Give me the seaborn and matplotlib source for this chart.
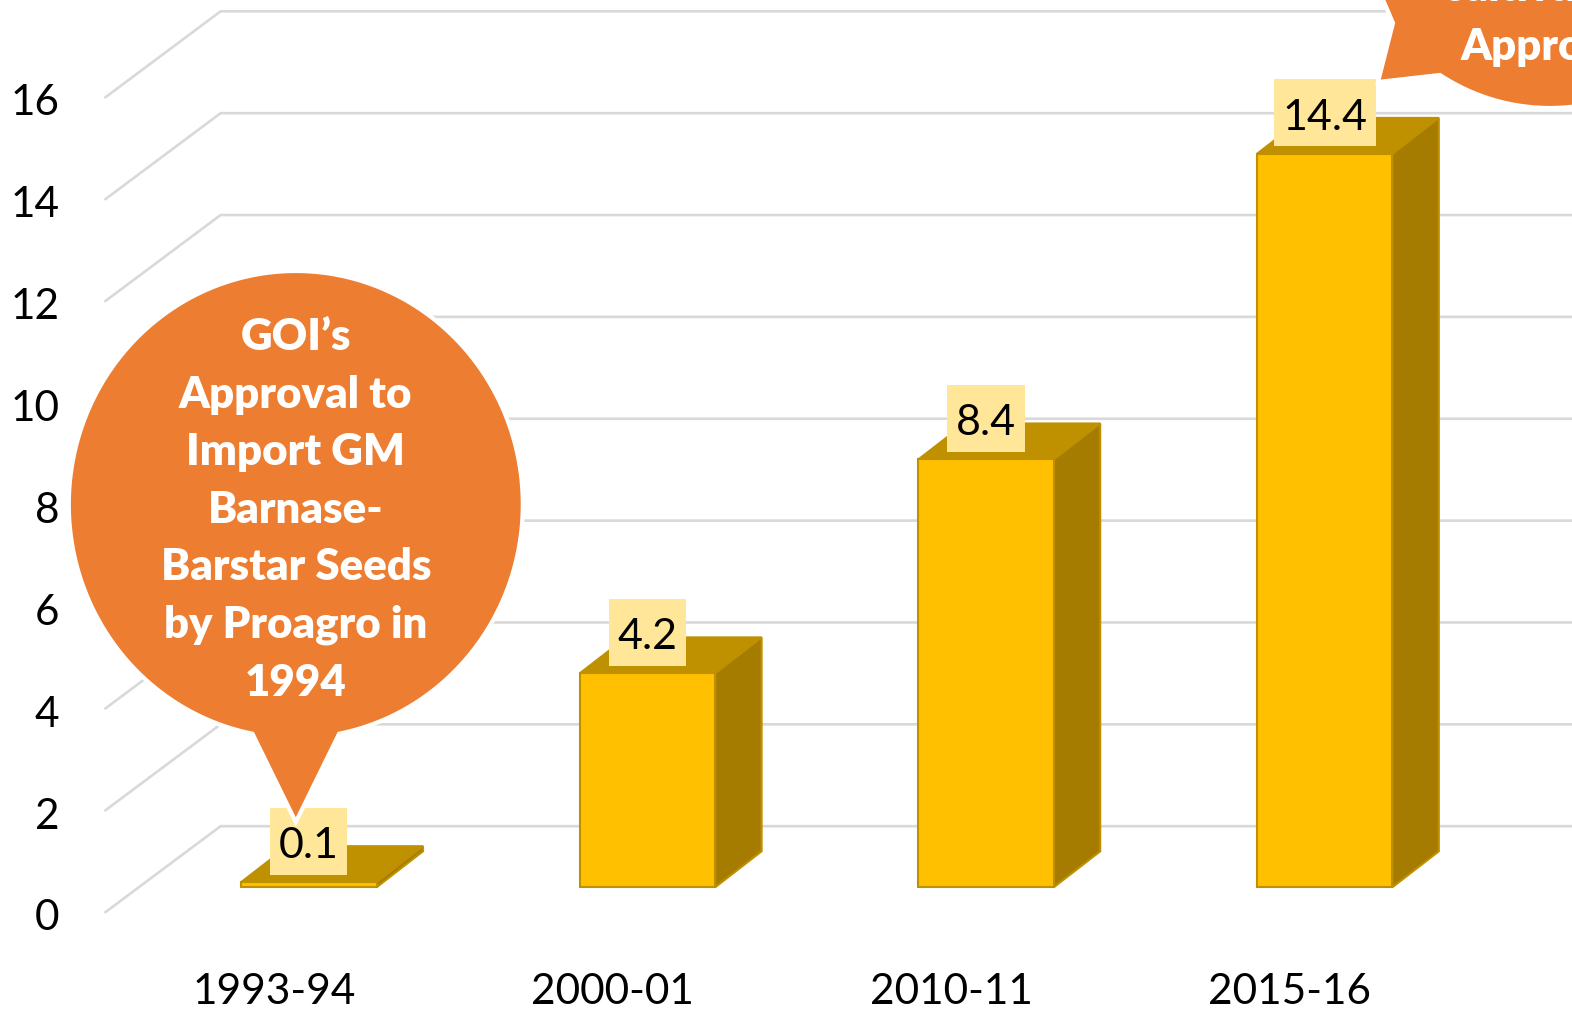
import numpy as np
import matplotlib
matplotlib.use("Agg")
import matplotlib.pyplot as plt
from matplotlib.patches import Polygon, Rectangle
import seaborn as sns

# ==========================================================
# DATA
# ==========================================================

categories = ["1993-94", "2000-01", "2010-11", "2015-16"]
values = [0.1, 4.2, 8.4, 14.4]
value_labels = ["0.1", "4.2", "8.4", "14.4"]
y_ticks = [0, 2, 4, 6, 8, 10, 12, 14, 16]

callout_left = ["GOI\u2019s", "Approval to", "Import GM", "Barnase-",
                "Barstar Seeds", "by Proagro in", "1994"]
callout_right = ["cultivation", "Approval"]

# ==========================================================
# STYLE
# ==========================================================

FRONT = "#FFC000"
TOP = "#BF9000"
SIDE = "#A67C00"
EDGE = "#BF9000"
LABEL_BOX = "#FFE699"
ORANGE = "#ED7D31"
GRID = "#D9D9D9"

W, H = 1572, 1010
X0, X_STEP = 308.8, 338.6     # pixels of first bar centre, bar spacing
Y0, Y_UNIT = 887.3, 50.93     # pixels of value 0 on the bars, one value unit
BAR_W = 0.4
DX = 46.5 / X_STEP            # depth of the bars
DY = 36 / Y_UNIT

sns.set_theme(style="white")
plt.rcParams["font.family"] = ["Lato", "DejaVu Sans"]

fig = plt.figure(figsize=(W / 100, H / 100), dpi=100)
ax = fig.add_axes([0, 0, 1, 1])

# ==========================================================
# GRID WALL
# ==========================================================

x_front = (105.3 - X0) / X_STEP
x_back = (220.6 - X0) / X_STEP
x_right = (W - X0) / X_STEP
for v in y_ticks:
    ax.plot([x_front, x_back, x_right], [v - 0.49, v + 1.2, v + 1.2],
            color=GRID, lw=1.9, zorder=0, solid_joinstyle="miter")
    ax.text(x_front - 0.135, v - 0.61, str(v), ha="right", va="center",
            fontsize=30.5, color="black")

# ==========================================================
# BARS
# ==========================================================

sns.barplot(x=categories, y=values, width=BAR_W, color=FRONT, saturation=1,
            edgecolor=EDGE, linewidth=1.5, ax=ax, zorder=3)

ax.set_xlim(-X0 / X_STEP, (W - X0) / X_STEP)
ax.set_ylim((Y0 - H) / Y_UNIT, Y0 / Y_UNIT)

renderer = fig.canvas.get_renderer()
for i, v in enumerate(values):
    l, r = i - BAR_W / 2, i + BAR_W / 2
    ax.add_patch(Polygon([(l, v), (r, v), (r + DX, v + DY), (l + DX, v + DY)],
                         fc=TOP, ec=EDGE, lw=1.5, zorder=2))
    ax.add_patch(Polygon([(r, 0), (r + DX, DY), (r + DX, v + DY), (r, v)],
                         fc=SIDE, ec=EDGE, lw=1.5, zorder=2))
    # value label: text sits a little low in its pale box
    txt = ax.text(i, v + 36 / Y_UNIT, value_labels[i], ha="center", va="center",
                  fontsize=31, color="black", zorder=5)
    box_w = (txt.get_window_extent(renderer).width + 17) / X_STEP
    ax.add_patch(Rectangle((i - box_w / 2, v + (41 - 33.5) / Y_UNIT), box_w,
                           67 / Y_UNIT, fc=LABEL_BOX, ec="none", zorder=4))
    ax.text(i - 35 / X_STEP, (Y0 - 992) / Y_UNIT, categories[i], ha="center",
            va="center", fontsize=30.5, color="black")

ax.axis("off")

# ==========================================================
# CALLOUTS
# ==========================================================

ov = fig.add_axes([0, 0, 1, 1], facecolor="none")
ov.set_xlim(0, W)
ov.set_ylim(H, 0)
ov.axis("off")

# arc runs from just right of the tail round the top to just left of it
t = np.radians(np.linspace(-79, 259, 200))
shape = np.column_stack([295.8 + 227 * np.cos(t), 504.5 - 233.5 * np.sin(t)])
shape = np.vstack([shape, [295.8, 822]])
ov.add_patch(Polygon(shape, closed=True, fc=ORANGE, ec="white", lw=3, zorder=5))

for i, line in enumerate(callout_left):
    ov.text(295.8, 337 + i * 57.6, line, ha="center", va="center", fontsize=31.5,
            fontweight="heavy", color="white", zorder=6)

t = np.radians(np.linspace(236.6, 360, 100))
arc = np.column_stack([1550 + 200 * np.cos(t), -92 - 200 * np.sin(t)])
shape = np.vstack([[1381, -5], [1393, 23], [1378, 82], arc])
ov.add_patch(Polygon(shape, closed=True, fc=ORANGE, ec="white", lw=3, zorder=5))

ov.text(1443, -12, callout_right[0], ha="left", va="center", fontsize=31.5,
        fontweight="heavy", color="white", zorder=6, clip_on=True)
ov.text(1461, 47, callout_right[1], ha="left", va="center", fontsize=31.5,
        fontweight="heavy", color="white", zorder=6, clip_on=True)

fig.savefig("out.png", dpi=100)
